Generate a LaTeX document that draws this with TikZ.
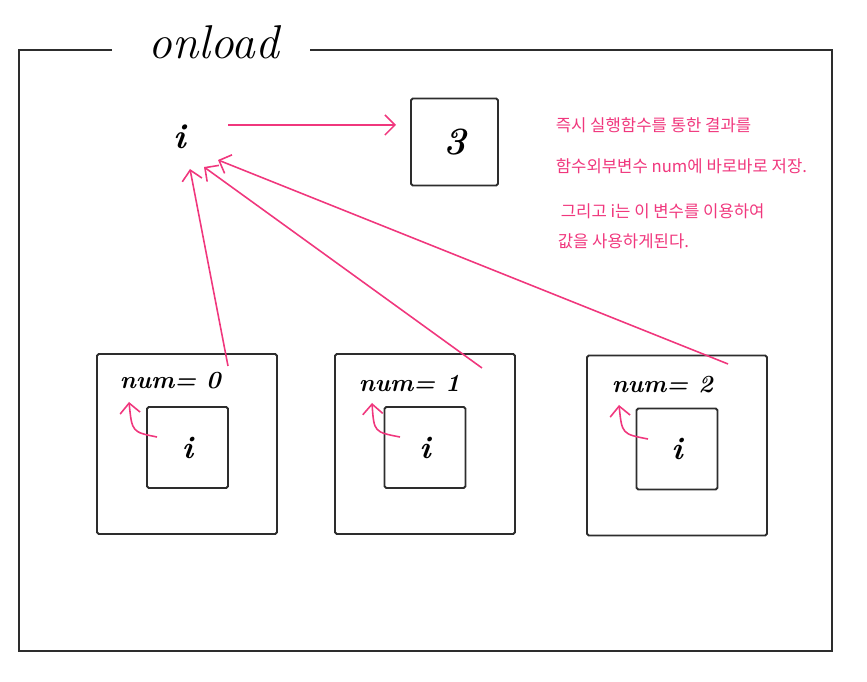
\documentclass[tikz,border=0pt]{standalone}
\usepackage{fontspec}
\newfontfamily\krfont{Noto Sans CJK KR}
\usetikzlibrary{arrows.meta}
\definecolor{memopink}{RGB}{240,55,125}
\definecolor{boxgray}{RGB}{45,45,45}
\tikzset{
  frame/.style={draw=boxgray,line width=1.1pt,rounded corners=1pt},
  pinkarrow/.style={->,memopink,line width=0.9pt},
  memo/.style={anchor=west,memopink,font=\krfont\fontsize{9.5}{11}\selectfont,inner sep=0pt},
  numlabel/.style={anchor=west,font=\fontsize{14}{16}\selectfont\bfseries\itshape,inner sep=0pt}
}

\begin{document}
\begin{tikzpicture}[x=0.02cm,y=-0.02cm,line width=0.9pt,>={Straight Barb[length=2mm]}]
  \useasboundingbox (0,0) rectangle (867,682);
  % onload frame
  \node[font=\fontsize{27}{30}\selectfont\itshape] (title) at (214,42){onload};
  \draw[boxgray,line width=1.1pt] (112,50)--(19,50)--(19,651)--(832,651)--(832,50)--(310,50);
  % i and its value
  \node[font=\fontsize{20}{22}\selectfont\bfseries\itshape,inner sep=2pt] (ivar) at (180,137){i};
  \node[frame,minimum size=1.74cm] (val) at (454.5,142){};
  \node[font=\fontsize{22}{24}\selectfont\bfseries\itshape] (three) at (val.center){3};
  \coordinate (from) at (228,125);
  \coordinate (to) at (396,125);
  \draw[pinkarrow] (from)--(to);
  % three closures
  \node[frame,minimum size=3.6cm] (outA) at (187,444){};
  \node[frame,minimum size=1.62cm] (inA) at (187.5,447.5){};
  \node[font=\fontsize{18}{20}\selectfont\bfseries\itshape] at (inA.center){i};
  \node[numlabel] (numA) at (119,381){num= 0};
  \node[frame,minimum size=3.6cm] (outB) at (425,444){};
  \node[frame,minimum size=1.62cm] (inB) at (425,447.5){};
  \node[font=\fontsize{18}{20}\selectfont\bfseries\itshape] at (inB.center){i};
  \node[numlabel] (numB) at (358,383){num= 1};
  \node[frame,minimum size=3.6cm] (outC) at (677,445.5){};
  \node[frame,minimum size=1.62cm] (inC) at (677,449){};
  \node[font=\fontsize{18}{20}\selectfont\bfseries\itshape] at (inC.center){i};
  \node[numlabel] (numC) at (611,385){num= 2};
  % arrows back to i
  \coordinate (tipA) at (190,169);
  \coordinate (tipB) at (204,167);
  \coordinate (tipC) at (218,160);
  \draw[pinkarrow] (228,366)--(tipA);
  \draw[pinkarrow] (482,368)--(tipB);
  \draw[pinkarrow] (728,364)--(tipC);
  % small curls from inner i to num
  \draw[pinkarrow] (157,437) .. controls (132,432) .. (129,402);
  \draw[pinkarrow] (400,437) .. controls (374,432) .. (372,403);
  \draw[pinkarrow] (648,439) .. controls (622,434) .. (619,405);
  % memo
  \node[memo] (memoA) at (555,125){즉시 실행함수를 통한 결과를};
  \node[memo] (memoB) at (555,166){함수외부변수 num에 바로바로 저장.};
  \node[memo] (memoC) at (560,211){그리고 i는 이 변수를 이용하여};
  \node[memo] (memoD) at (557,241){값을 사용하게된다.};
\end{tikzpicture}
\end{document}
